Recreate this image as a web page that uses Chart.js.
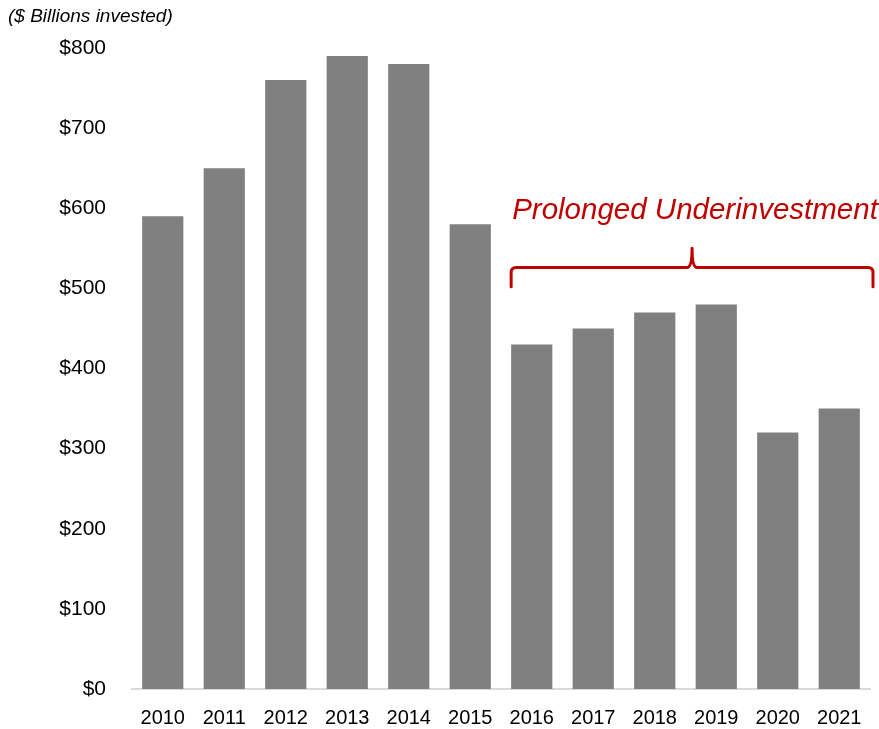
<!DOCTYPE html>
<html>
<head>
<meta charset="utf-8">
<script src="https://cdn.jsdelivr.net/npm/chart.js@4"></script>
<style>
  html, body { margin: 0; padding: 0; background: #fff; }
  canvas { display: block; }
</style>
</head>
<body>
<canvas id="myChart" width="879" height="729"></canvas>
<script>
  const years = ['2010', '2011', '2012', '2013', '2014', '2015', '2016', '2017', '2018', '2019', '2020', '2021'];
  const invested = [590, 650, 760, 790, 780, 580, 430, 450, 470, 480, 320, 350];
  const yMax = 800;
  const yStep = 100;

  const unitLabel = '($ Billions invested)';
  const noteText = 'Prolonged Underinvestment';
  const bracketFrom = '2016'; // first year under the bracket
  const noteRed = '#C00000';
  const sans = '"Liberation Sans", Arial, sans-serif';

  // draws the unit label, the red note and its curly bracket
  const notePlugin = {
    id: 'notePlugin',
    afterDraw(chart) {
      const ctx = chart.ctx;
      const y = chart.scales.y;
      const area = chart.chartArea;
      const bar = chart.getDatasetMeta(0).data[years.indexOf(bracketFrom)];

      ctx.save();
      ctx.fillStyle = '#000';
      ctx.font = 'italic 19px ' + sans;
      ctx.textBaseline = 'alphabetic';
      ctx.fillText(unitLabel, 8, 22);

      const left = bar.x - bar.width / 2;
      ctx.fillStyle = noteRed;
      ctx.font = 'italic 29.5px ' + sans;
      ctx.fillText(noteText, left + 1, y.getPixelForValue(587));

      const right = area.right + 3;
      const mid = (left + right) / 2;
      const yLine = y.getPixelForValue(526);
      const yEnd = y.getPixelForValue(502);
      const yTip = y.getPixelForValue(550);
      const r = 5;
      ctx.strokeStyle = noteRed;
      ctx.lineWidth = 3;
      ctx.lineCap = 'round';
      ctx.lineJoin = 'round';
      ctx.beginPath();
      ctx.moveTo(left, yEnd);
      ctx.lineTo(left, yLine + r);
      ctx.quadraticCurveTo(left, yLine, left + r, yLine);
      ctx.lineTo(mid - r, yLine);
      ctx.quadraticCurveTo(mid, yLine, mid, yTip);
      ctx.quadraticCurveTo(mid, yLine, mid + r, yLine);
      ctx.lineTo(right - r, yLine);
      ctx.quadraticCurveTo(right, yLine, right, yLine + r);
      ctx.lineTo(right, yEnd);
      ctx.stroke();
      ctx.restore();
    }
  };

  const ctx = document.getElementById('myChart').getContext('2d');
  new Chart(ctx, {
    type: 'bar',
    data: {
      labels: years,
      datasets: [{
        data: invested,
        backgroundColor: '#808080',
        borderWidth: 0,
        categoryPercentage: 1,
        barPercentage: 0.67
      }]
    },
    options: {
      responsive: false,
      animation: false,
      layout: { padding: { top: 48, right: 9, left: 0, bottom: 0 } },
      plugins: {
        legend: { display: false },
        tooltip: { enabled: false }
      },
      scales: {
        x: {
          grid: { display: false, drawTicks: false },
          border: { display: true, color: '#D9D9D9', width: 2 },
          ticks: { color: '#000', font: { family: sans, size: 20 }, padding: 17, maxRotation: 0 },
          afterFit: scale => { scale.height = 40; }
        },
        y: {
          min: 0,
          max: yMax,
          grid: { display: false, drawTicks: false },
          border: { display: false },
          ticks: {
            stepSize: yStep,
            color: '#000',
            font: { family: sans, size: 21 },
            padding: 26,
            callback: v => '$' + v
          },
          afterFit: scale => { scale.width = 132; }
        }
      }
    },
    plugins: [notePlugin]
  });
</script>
</body>
</html>
